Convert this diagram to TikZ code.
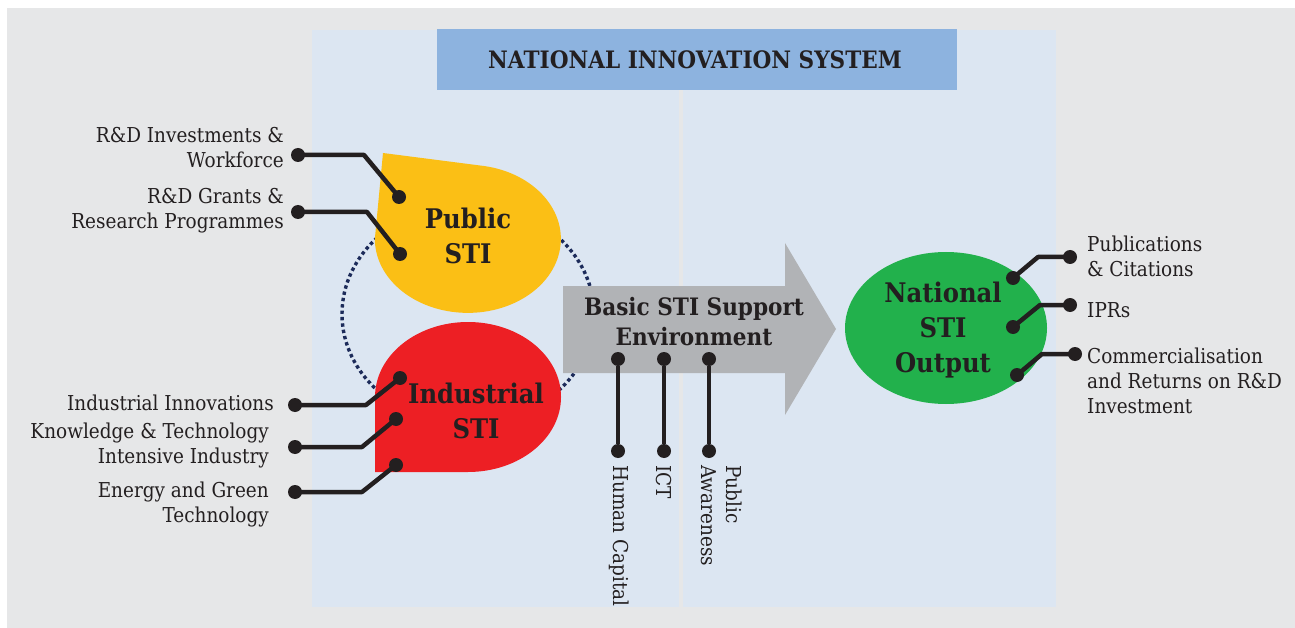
\documentclass[tikz,border=0pt]{standalone}
\usepackage{fontspec}
\setmainfont{DejaVu Serif}[FakeStretch=0.9]
\definecolor{bggray}{HTML}{E6E7E8}
\definecolor{panel}{HTML}{DCE6F2}
\definecolor{titleblue}{HTML}{8DB3DF}
\definecolor{pubyellow}{HTML}{FBBF15}
\definecolor{indred}{HTML}{ED1F24}
\definecolor{outgreen}{HTML}{22B14C}
\definecolor{arrowgray}{HTML}{B1B3B6}
\definecolor{navy}{HTML}{1C2B5A}
\definecolor{ink}{HTML}{231F20}
\begin{document}
\begin{tikzpicture}[x=1pt,y=-1pt,
  lbl/.style={font=\fontsize{20.5}{25}\selectfont, text=ink, inner sep=0pt},
  head/.style={font=\bfseries\fontsize{27}{35}\selectfont, text=ink, align=center, inner sep=0pt},
  pinend/.style={circle, fill=ink, inner sep=0pt, minimum size=14pt},
  wire/.style={draw=ink, line width=4.5pt, line join=round}]
\useasboundingbox (0,0) rectangle (1295,628);
\fill[white] (0,0) rectangle (1295,628);
% backdrop and the two panels
\fill[bggray] (7,8) rectangle (1295,628);
\fill[panel] (312,30) rectangle (679,607);
\fill[panel] (683,30) rectangle (1056,607);
\fill[titleblue] (437,29) rectangle (957,90);
\node[font=\bfseries\fontsize{24}{30}\selectfont, text=ink] (title) at (695,60) {NATIONAL INNOVATION SYSTEM};

% dotted ring joining the public and industrial sides
\draw[navy, line width=3.4pt, line cap=butt, dash pattern=on 3.4pt off 3pt] (468,314) ellipse [x radius=126, y radius=110];

% Public STI drop
\fill[pubyellow] (383,153) -- (484,166) arc[start angle=-80, end angle=180, x radius=93, y radius=74] -- cycle;
\node[head] (public) at (468,236) {Public\\STI};

% Industrial STI drop
\fill[indred] (375,397) arc[start angle=180, end angle=450, x radius=93, y radius=75] -- (375,472) -- cycle;
\node[head] (industrial) at (476,411) {Industrial\\STI};

% support environment arrow
\fill[arrowgray] (563,286) -- (785,286) -- (785,243) -- (836,329) -- (785,415) -- (785,373) -- (563,373) -- cycle;
\node[font=\bfseries\fontsize{24}{30}\selectfont, text=ink, align=center, inner sep=0pt] (basic) at (694,322) {Basic STI Support\\Environment};

% output ellipse
\fill[outgreen] (946,328) ellipse [x radius=101, y radius=76];
\node[head] (output) at (943,330) {National\\STI\\Output};

% inputs of the public side
\node[pinend] (p1) at (298,155) {};
\node[pinend] (p1e) at (399,197) {};
\node[pinend] (p2) at (298,212) {};
\node[pinend] (p2e) at (400,254) {};
\draw[wire] (p1.center) -- (364,155) -- (p1e.center);
\draw[wire] (p2.center) -- (367,212) -- (p2e.center);
\node[lbl, anchor=east, align=right] (l1) at (284,148) {R\&D Investments \&\\Workforce};
\node[lbl, anchor=east, align=right] (l2) at (284,211) {R\&D Grants \&\\Research Programmes};

% inputs of the industrial side
\node[pinend] (i1) at (295,405) {};
\node[pinend] (i1e) at (400,378) {};
\node[pinend] (i2) at (295,447) {};
\node[pinend] (i2e) at (396,419) {};
\node[pinend] (i3) at (295,492) {};
\node[pinend] (i3e) at (396,465) {};
\draw[wire] (i1.center) -- (366,405) -- (i1e.center);
\draw[wire] (i2.center) -- (362,447) -- (i2e.center);
\draw[wire] (i3.center) -- (362,492) -- (i3e.center);
\node[lbl, anchor=east, align=right] (l3) at (274,403) {Industrial Innovations};
\node[lbl, anchor=east, align=right] (l4) at (269,445) {Knowledge \& Technology\\Intensive Industry};
\node[lbl, anchor=east, align=right] (l5) at (269,504) {Energy and Green\\Technology};

% support pillars
\node[pinend] (s1) at (618,359) {};
\node[pinend] (s1e) at (618,451) {};
\node[pinend] (s2) at (664,359) {};
\node[pinend] (s2e) at (664,451) {};
\node[pinend] (s3) at (709,359) {};
\node[pinend] (s3e) at (709,451) {};
\draw[wire] (s1) -- (s1e);
\draw[wire] (s2) -- (s2e);
\draw[wire] (s3) -- (s3e);
\node[lbl, rotate=-90, anchor=west] (hc) at (619,465) {Human Capital};
\node[lbl, rotate=-90, anchor=west] (ict) at (664,465) {ICT};
\node[lbl, rotate=-90, anchor=west, align=left] (pa) at (722,465) {Public\\Awareness};

% outputs
\node[pinend] (o1) at (1013,278) {};
\node[pinend] (o1e) at (1070,257) {};
\node[pinend] (o2) at (1013,327) {};
\node[pinend] (o2e) at (1070,305) {};
\node[pinend] (o3) at (1017,375) {};
\node[pinend] (o3e) at (1075,354) {};
\draw[wire] (o1.center) -- (1038,257) -- (o1e.center);
\draw[wire] (o2.center) -- (1040,305) -- (o2e.center);
\draw[wire] (o3.center) -- (1042,354) -- (o3e.center);
\node[lbl, anchor=west, align=left] (r1) at (1087,256) {Publications\\\& Citations};
\node[lbl, anchor=west, align=left] (r2) at (1087,310) {IPRs};
\node[lbl, anchor=west, align=left] (r3) at (1087,381) {Commercialisation\\and Returns on R\&D\\Investment};
\end{tikzpicture}
\end{document}
